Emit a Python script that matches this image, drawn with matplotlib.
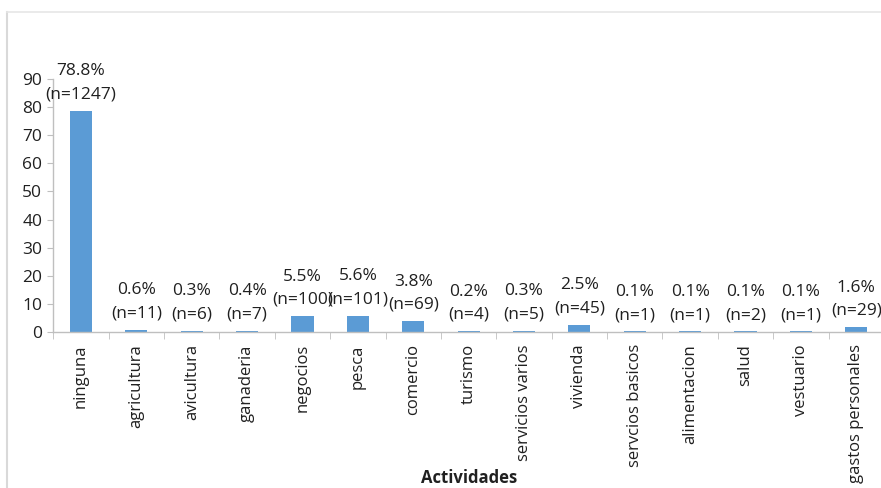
import matplotlib
matplotlib.use("Agg")
import matplotlib.pyplot as plt
from matplotlib.lines import Line2D
import numpy as np

categories = ["ninguna", "agricultura", "avicultura", "ganaderia", "negocios", "pesca",
              "comercio", "turismo", "servicios varios", "vivienda", "servcios basicos",
              "alimentacion", "salud", "vestuario", "gastos personales"]
percent = [78.8, 0.6, 0.3, 0.4, 5.5, 5.6, 3.8, 0.2, 0.3, 2.5, 0.1, 0.1, 0.1, 0.1, 1.6]
counts = [1247, 11, 6, 7, 100, 101, 69, 4, 5, 45, 1, 1, 2, 1, 29]
yticks = [0, 10, 20, 30, 40, 50, 60, 70, 80, 90]

plt.rcParams['font.family'] = ['Open Sans', 'DejaVu Sans']
text_color = '#202020'
axis_color = '#bfbfbf'
bar_color = '#5B9BD5'

W, H = 881, 488
fig = plt.figure(figsize=(W / 100, H / 100), dpi=100)
fig.patch.set_facecolor('white')

# outer chart frame
fig.add_artist(Line2D([7 / W, 7 / W], [0, 1 - 12 / H], transform=fig.transFigure,
                      color='#d9d9d9', lw=1.5))
fig.add_artist(Line2D([7 / W, 1.0], [1 - 12 / H, 1 - 12 / H], transform=fig.transFigure,
                      color='#e6e6e6', lw=1.2))

left, right = 53.3, 884.0
top, bottom = 79.3, 331.7
ax = fig.add_axes([left / W, 1 - bottom / H, (right - left) / W, (bottom - top) / H])
ax.set_facecolor('none')

x = np.arange(len(categories))
ax.bar(x, percent, width=0.4, color=bar_color, zorder=2)

ax.set_xlim(-0.5, len(categories) - 0.5)
ax.set_ylim(0, 90)
ax.set_yticks(yticks)
ax.set_yticklabels([str(v) for v in yticks], fontsize=12.5, color=text_color)

ax.set_xticks(x)
ax.set_xticklabels(categories, rotation=90, fontsize=12, color=text_color, va='top')
ax.tick_params(axis='x', which='major', length=0, pad=9)
ax.set_xticks(np.arange(len(categories) + 1) - 0.5, minor=True)
ax.tick_params(axis='x', which='minor', length=5, color=axis_color, direction='out')
ax.tick_params(axis='y', length=4, color=axis_color, direction='out', pad=4)

for s in ['top', 'right']:
    ax.spines[s].set_visible(False)
for s in ['left', 'bottom']:
    ax.spines[s].set_color(axis_color)
    ax.spines[s].set_linewidth(1.0)

for xi, p, n in zip(x, percent, counts):
    ax.annotate(f"{p}%\n(n={n})", xy=(xi, p), xytext=(0, 6), textcoords='offset points',
                ha='center', va='bottom', fontsize=12.5, color=text_color,
                linespacing=1.6, annotation_clip=False)

ax.set_xlabel("Actividades", fontsize=12, fontweight='bold', color=text_color)
ax.xaxis.set_label_coords(0.5, (bottom - 478) / (bottom - top))
ax.xaxis.label.set_va('center')

fig.savefig("out.png", dpi=100)
